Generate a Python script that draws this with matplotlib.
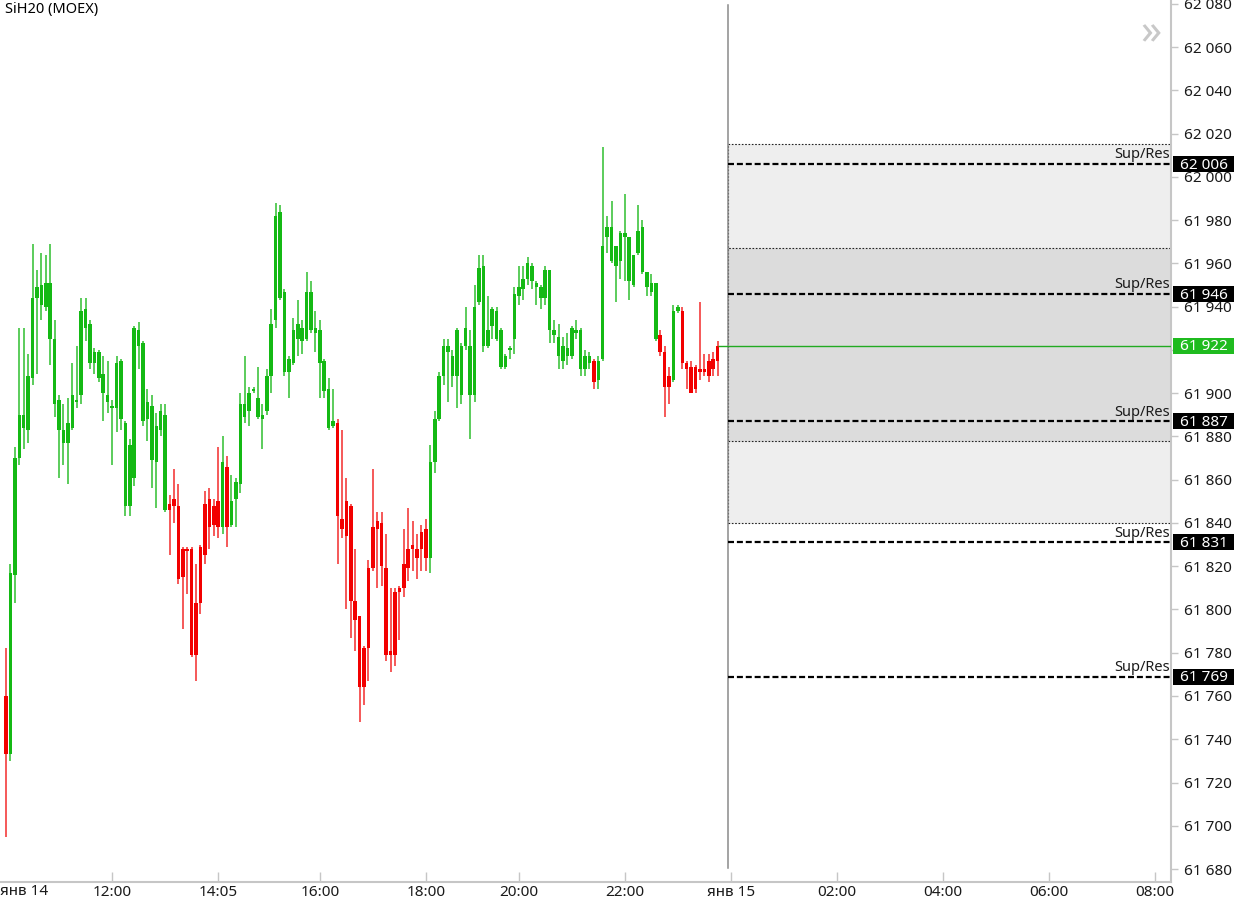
import matplotlib
matplotlib.use("Agg")
import matplotlib.pyplot as plt
from matplotlib.patches import Rectangle
from matplotlib.transforms import blended_transform_factory
import numpy as np

plt.rcParams['font.family'] = ['Noto Sans', 'DejaVu Sans']

# ---------------- data ----------------
title = "SiH20 (MOEX)"

opens = [61760, 61733, 61816, 61870, 61884, 61883, 61907, 61944, 61941, 61940,
         61925, 61895, 61883, 61877, 61877, 61884, 61896, 61899, 61930, 61914,
         61914, 61907, 61900, 61896, 61893, 61893, 61888, 61848, 61848, 61861,
         61922, 61887, 61888, 61869, 61868, 61883, 61846, 61849, 61851, 61848,
         61828, 61828, 61828, 61803, 61829, 61849, 61851, 61848, 61850, 61838,
         61866, 61839, 61851, 61858, 61889, 61892, 61901, 61889, 61888, 61892,
         61908, 61934, 61944, 61910, 61910, 61914, 61925, 61924, 61925, 61929,
         61928, 61914, 61901, 61884, 61885, 61886, 61842, 61850, 61848, 61804,
         61797, 61782, 61819, 61838, 61841, 61840, 61819, 61781, 61808, 61810,
         61821, 61828, 61830, 61828, 61836, 61837, 61824, 61868, 61888, 61908,
         61919, 61908, 61908, 61899, 61922, 61899, 61899, 61942, 61922, 61922,
         61931, 61925, 61912, 61912, 61920, 61925, 61945, 61948, 61953, 61952,
         61949, 61944, 61944, 61929, 61927, 61917, 61915, 61917, 61917, 61928,
         61911, 61911, 61914, 61915, 61906, 61916, 61972, 61961, 61959, 61961,
         61972, 61952, 61950, 61965, 61956, 61949, 61947, 61925, 61927, 61919,
         61908, 61906, 61938, 61938, 61914, 61912, 61912, 61911, 61911, 61915,
         61916, 61915]
highs = [61782, 61821, 61875, 61930, 61930, 61918, 61969, 61957, 61965, 61964,
         61969, 61934, 61899, 61895, 61898, 61914, 61922, 61944, 61944, 61934,
         61921, 61920, 61917, 61915, 61897, 61917, 61916, 61887, 61879, 61931,
         61933, 61924, 61902, 61899, 61891, 61895, 61895, 61853, 61865, 61858,
         61829, 61829, 61829, 61821, 61830, 61855, 61856, 61851, 61875, 61880,
         61871, 61862, 61861, 61900, 61917, 61903, 61903, 61912, 61895, 61911,
         61939, 61988, 61987, 61948, 61917, 61935, 61943, 61934, 61956, 61952,
         61938, 61934, 61916, 61907, 61902, 61888, 61883, 61861, 61849, 61828,
         61797, 61783, 61823, 61865, 61845, 61845, 61835, 61810, 61810, 61811,
         61837, 61847, 61841, 61835, 61839, 61842, 61876, 61892, 61910, 61925,
         61925, 61920, 61930, 61923, 61940, 61929, 61950, 61964, 61964, 61945,
         61940, 61940, 61930, 61918, 61922, 61949, 61959, 61959, 61963, 61960,
         61952, 61950, 61959, 61957, 61934, 61932, 61926, 61928, 61931, 61934,
         61930, 61920, 61919, 61916, 61917, 62014, 61982, 61989, 61968, 61975,
         61992, 61972, 61964, 61987, 61980, 61956, 61955, 61951, 61929, 61922,
         61912, 61941, 61941, 61940, 61915, 61915, 61913, 61942, 61918, 61918,
         61919, 61924]
lows = [61695, 61730, 61803, 61867, 61874, 61877, 61904, 61909, 61934, 61938,
        61913, 61889, 61861, 61867, 61858, 61883, 61893, 61895, 61924, 61911,
        61909, 61905, 61887, 61891, 61867, 61882, 61883, 61843, 61843, 61857,
        61911, 61885, 61878, 61856, 61847, 61880, 61845, 61825, 61840, 61812,
        61791, 61807, 61778, 61767, 61798, 61821, 61828, 61834, 61833, 61835,
        61829, 61838, 61838, 61854, 61886, 61885, 61900, 61888, 61874, 61890,
        61900, 61930, 61943, 61908, 61898, 61913, 61917, 61918, 61924, 61928,
        61919, 61898, 61898, 61883, 61884, 61821, 61833, 61800, 61787, 61781,
        61748, 61756, 61767, 61818, 61810, 61811, 61776, 61771, 61774, 61786,
        61806, 61813, 61818, 61814, 61818, 61818, 61817, 61863, 61887, 61904,
        61896, 61903, 61893, 61895, 61920, 61879, 61896, 61941, 61919, 61921,
        61925, 61924, 61911, 61911, 61916, 61918, 61941, 61943, 61950, 61948,
        61941, 61939, 61941, 61923, 61923, 61911, 61911, 61913, 61916, 61925,
        61908, 61908, 61911, 61902, 61902, 61915, 61965, 61960, 61942, 61953,
        61952, 61943, 61949, 61964, 61955, 61945, 61945, 61924, 61917, 61889,
        61895, 61905, 61937, 61911, 61902, 61900, 61900, 61906, 61908, 61905,
        61908, 61908]
closes = [61733, 61817, 61870, 61890, 61890, 61908, 61944, 61949, 61950, 61951,
          61951, 61925, 61897, 61883, 61886, 61899, 61897, 61938, 61939, 61932,
          61919, 61919, 61909, 61899, 61894, 61914, 61915, 61886, 61876, 61930,
          61929, 61923, 61896, 61894, 61885, 61892, 61890, 61846, 61848, 61814,
          61815, 61827, 61779, 61779, 61803, 61825, 61838, 61839, 61838, 61868,
          61838, 61850, 61859, 61895, 61895, 61900, 61902, 61898, 61890, 61908,
          61932, 61982, 61984, 61947, 61916, 61929, 61932, 61930, 61947, 61947,
          61930, 61929, 61915, 61902, 61887, 61843, 61837, 61834, 61804, 61795,
          61764, 61764, 61782, 61819, 61837, 61820, 61779, 61779, 61779, 61808,
          61810, 61819, 61828, 61824, 61828, 61824, 61868, 61888, 61908, 61922,
          61922, 61917, 61929, 61922, 61930, 61922, 61940, 61958, 61959, 61929,
          61939, 61938, 61929, 61917, 61921, 61946, 61949, 61953, 61960, 61959,
          61951, 61949, 61957, 61957, 61929, 61926, 61922, 61921, 61930, 61929,
          61929, 61917, 61917, 61905, 61915, 61968, 61977, 61977, 61968, 61974,
          61974, 61972, 61964, 61975, 61977, 61956, 61951, 61951, 61919, 61903,
          61903, 61938, 61940, 61914, 61911, 61900, 61902, 61910, 61910, 61908,
          61911, 61922]
trend = list("r" + "g" * 36 + "r" * 12 + "g" + "r" + "g" * 24 + "r" * 21 +
             "g" * 37 + "r" + "g" * 14 + "r" * 3 + "g" * 2 + "r" * 9)

tick_index = [24, 48, 71, 95, 116, 140, 164, 188, 212, 236, 260]
tick_labels = ["12:00", "14:05", "16:00", "18:00", "20:00", "22:00",
               "янв 15", "02:00", "04:00", "06:00", "08:00"]
first_date_label = "янв 14"

levels = [62006, 61946, 61887, 61831, 61769]
level_label = "Sup/Res"
zone_outer = (61840, 62015)
zone_inner = (61878, 61967)
last_price = 61922
now_index = 163.3

y_ticks = list(range(61680, 62081, 20))
y_range = (61674.0, 62081.8)
x_range = (-1.36, 263.57)

# ---------------- style ----------------
GREEN = "#14b914"
RED = "#f20000"
GREEN_WICK = "#3fc43f"
RED_WICK = "#f43c3c"
AXIS_GREY = "#c6c6c6"
TXT = "#1a1a1a"

W, H = 1234, 900
fig = plt.figure(figsize=(W / 100, H / 100), dpi=100)
fig.patch.set_facecolor("white")
ax_right_px = 1171
ax_bottom_px = 882
ax = fig.add_axes([0, (H - ax_bottom_px) / H, ax_right_px / W, ax_bottom_px / H])
ax.set_facecolor("white")

o = np.array(opens, dtype=float)
h = np.array(highs, dtype=float)
l = np.array(lows, dtype=float)
c = np.array(closes, dtype=float)
n = len(o)
idx = np.arange(n)
body_col = [GREEN if t == "g" else RED for t in trend]
wick_col = [GREEN_WICK if t == "g" else RED_WICK for t in trend]

# zones
ax.add_patch(Rectangle((now_index, zone_outer[0]), x_range[1] - now_index,
                       zone_outer[1] - zone_outer[0], facecolor="#eeeeee",
                       edgecolor="#222222", linewidth=0.8,
                       linestyle=(0, (1.5, 1.5)), zorder=1))
ax.add_patch(Rectangle((now_index, zone_inner[0]), x_range[1] - now_index,
                       zone_inner[1] - zone_inner[0], facecolor="#dcdcdc",
                       edgecolor="#222222", linewidth=0.8,
                       linestyle=(0, (1.5, 1.5)), zorder=1.1))

# now line
ax.axvline(now_index, ymin=0.016, ymax=0.994, color="#8a8a8a", lw=1.1, zorder=2)

# candles
ax.vlines(idx, l, h, colors=wick_col, linewidth=1.2, zorder=3)
body_lo = np.minimum(o, c)
body_h = np.maximum(np.abs(c - o), 0.8)
ax.bar(idx, body_h, bottom=body_lo, width=0.8, color=body_col,
       linewidth=0, zorder=4)

# last price line
ax.hlines(last_price, n - 1, x_range[1], colors="#22aa22", lw=1.0, zorder=5)

# support / resistance levels
ax.hlines(levels, now_index, x_range[1], colors="black", lw=1.6,
          linestyles=(0, (2.7, 1.3)), zorder=5)
for v in levels:
    ax.annotate(level_label, xy=(x_range[1], v), xytext=(-1, 1.2),
                textcoords="offset points", ha="right", va="bottom",
                fontsize=10.5, color=TXT, zorder=6)

ax.set_xlim(*x_range)
ax.set_ylim(*y_range)

# axes styling
for s in ("left", "top"):
    ax.spines[s].set_visible(False)
for s in ("bottom", "right"):
    ax.spines[s].set_color(AXIS_GREY)
    ax.spines[s].set_linewidth(1.5)

# price tags on the right axis (a tick label fully covered by a tag is left blank)
tag_values = levels + [last_price]
tag_colors = ["black"] * len(levels) + ["#1fbb1f"]
tag_h_px = 16
covered = [v for v in y_ticks
           if any(abs(v - t) * 2.1625 < 6 for t in tag_values)]

ax.yaxis.tick_right()
ax.set_yticks(y_ticks)
ax.set_yticklabels(["" if v in covered else f"{v:,}".replace(",", " ")
                    for v in y_ticks])
ax.tick_params(axis="y", length=5, width=1, color=AXIS_GREY, pad=4,
               labelsize=11, labelcolor=TXT)

ax.set_xticks(tick_index)
ax.set_xticklabels(tick_labels)
ax.tick_params(axis="x", direction="in", length=7, width=1, color=AXIS_GREY,
               pad=2, labelsize=11, labelcolor=TXT)
ax.annotate(first_date_label, xy=(0, 0), xycoords="axes fraction",
            xytext=(0, -1.6), textcoords="offset points", ha="left", va="top",
            fontsize=11, color=TXT)

tag_tr = blended_transform_factory(fig.transFigure, ax.transData)
tag_h = tag_h_px / 2.1625
for v, bg in zip(tag_values, tag_colors):
    ax.add_patch(Rectangle((1173 / W, v - tag_h / 2), (W - 1173) / W, tag_h,
                           transform=tag_tr, facecolor=bg, edgecolor="none",
                           clip_on=False, zorder=10))
    ax.text(1180 / W, v - 0.6, f"{v:,}".replace(",", " "), transform=tag_tr,
            ha="left", va="center", fontsize=11, color="white",
            clip_on=False, zorder=11)

# title and scroll glyph
fig.text(5 / W, 1 - 10 / H, title, ha="left", va="center", fontsize=10.5,
         color="black")
fig.text(1151 / W, 1 - 33 / H, "»", ha="center", va="center", fontsize=30,
         color="#c8c8c8")

fig.savefig("out.png", dpi=100, facecolor="white")
